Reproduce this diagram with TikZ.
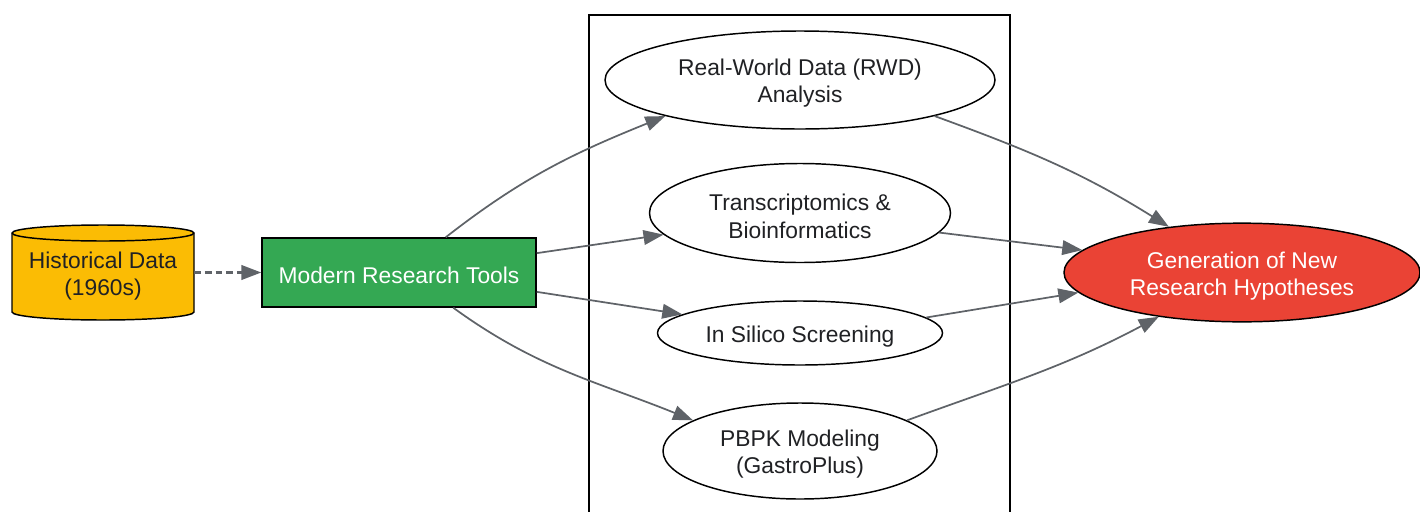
\documentclass[tikz,border=0pt]{standalone}
\usepackage{fontspec}
\setmainfont{Liberation Sans}
\usetikzlibrary{shapes.geometric,arrows.meta}
\definecolor{txt}{HTML}{202124}
\definecolor{edge}{HTML}{5F6368}
\definecolor{yel}{HTML}{FBBC04}
\definecolor{grn}{HTML}{34A853}
\definecolor{rd}{HTML}{EA4335}
\tikzset{
  every node/.style={font=\fontsize{17.1}{20.5}\selectfont, text=txt, align=center, inner sep=0pt},
  oval/.style={ellipse, draw=black, line width=1.1pt, fill=white},
  lbl/.style={yshift=-2.5pt},
  conn/.style={draw=edge, line width=1.3pt, -{Triangle[length=15pt,width=11pt]}},
}
\begin{document}
\begin{tikzpicture}[x=0.75pt,y=-0.75pt]
\useasboundingbox (0,0) rectangle (1420,511);
% group box
\draw[black, line width=1.1pt] (589,520) -- (589,15) -- (1010,15) -- (1010,520);
% cylinder
\node (hist) [minimum width=136.5pt, minimum height=71pt] at (103,272.5) {};
\begin{scope}[line width=1.1pt]
\filldraw[fill=yel, draw=black] (12,233) -- (12,312) arc[start angle=180,end angle=0,x radius=91,y radius=8] -- (194,233) arc[start angle=0,end angle=-180,x radius=91,y radius=8] -- cycle;
\draw[black] (12,233) arc[start angle=180,end angle=0,x radius=91,y radius=8];
\end{scope}
\node[lbl] at (hist) {Historical Data\\(1960s)};
% tools
\node (tools) [draw=black, line width=1.1pt, fill=grn, minimum width=205.5pt, minimum height=51.75pt] at (399,272.5) {};
\node[lbl, text=white] at (tools) {Modern Research Tools};
% ovals
\node (rwd) [oval, minimum width=292.5pt, minimum height=73.5pt] at (800,80) {};
\node[lbl] at (rwd) {Real-World Data (RWD)\\Analysis};
\node (tra) [oval, minimum width=225.75pt, minimum height=74.25pt] at (800,213) {};
\node[lbl] at (tra) {Transcriptomics \&\\Bioinformatics};
\node (sil) [oval, minimum width=213.75pt, minimum height=48pt] at (800,333) {};
\node[lbl] at (sil) {In Silico Screening};
\node (pbpk) [oval, minimum width=205.5pt, minimum height=72pt] at (800,451) {};
\node[lbl] at (pbpk) {PBPK Modeling\\(GastroPlus)};
\node (gen) [ellipse, draw=black, line width=1.1pt, fill=rd, minimum width=267pt, minimum height=74pt] at (1242,272.5) {};
\node[lbl, text=white] at (gen) {Generation of New\\Research Hypotheses};
% connectors
\draw[conn, line width=1.6pt, dash pattern=on 5pt off 3pt] (hist.east) -- (tools.west);
\draw[conn] (tools.37) to[out=38,in=202] (rwd.195);
\draw[conn] (tools.8) -- (tra.189);
\draw[conn] (tools.-8.5) -- (sil.171.4);
\draw[conn] (tools.-33) to[out=-36,in=158] (pbpk.164.5);
\draw[conn] (rwd.-15) to[out=-20,in=148] (gen.148.8);
\draw[conn] (tra.-8.1) -- (gen.172.4);
\draw[conn] (sil.7.7) -- (gen.187.6);
\draw[conn] (pbpk.16.7) to[out=20,in=208] (gen.208.7);
\end{tikzpicture}
\end{document}
